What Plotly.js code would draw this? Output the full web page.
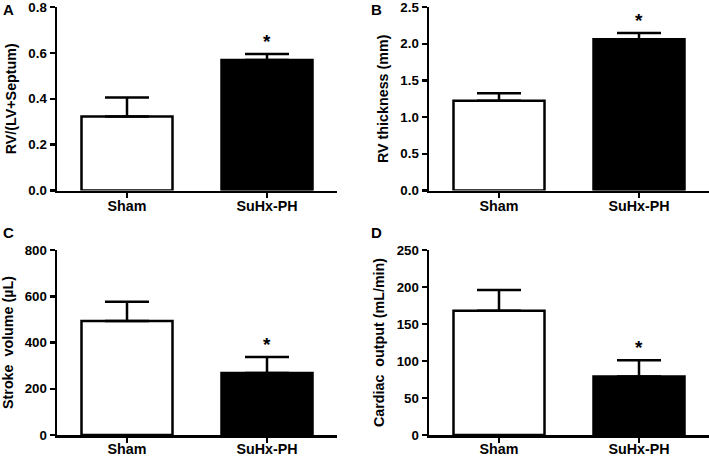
<!DOCTYPE html>
<html><head><meta charset="utf-8">
<script src="https://cdn.plot.ly/plotly-3.0.1.min.js"></script>
<style>html,body{margin:0;padding:0;background:#fff}</style>
</head><body><div id="chart" style="width:709px;height:456px"></div>
<script>
const groups = ['Sham', 'SuHx-PH'];
const rvRatio = [0.323, 0.569];
const rvRatioErr = [0.083, 0.026];
const rvThick = [1.225, 2.06];
const rvThickErr = [0.10, 0.087];
const strokeVol = [493, 268];
const strokeVolErr = [83, 69];
const cardOut = [168, 79];
const cardOutErr = [28, 22];
const panelLetters = ['A', 'B', 'C', 'D'];
const yTitles = ['RV/(LV+Septum)', 'RV thickness (mm)', 'Stroke  volume (\u00b5L)', 'Cardiac  output (mL/min)'];
const yMax = [0.8, 2.5, 800, 250];
const yDtick = [0.2, 0.5, 200, 50];
const yFormat = ['.1f', '.1f', '', ''];
const barColors = ['#ffffff', '#000000'];
const sigMark = '*';

const values = [rvRatio, rvThick, strokeVol, cardOut];
const errors = [rvRatioErr, rvThickErr, strokeVolErr, cardOutErr];

const W = 709, H = 456;
const FONT = 'Liberation Sans, Arial, sans-serif';
// pixel layout of panels: [left, right, top, bottom]
const boxes = [
  [57, 337, 7, 190.5],
  [429, 709, 7, 190.5],
  [57, 337, 250, 435],
  [429, 709, 250, 435]
];
const labelStandoff = [-4, -4, -6, -6];
const letterPos = [[8, 10], [377, 10], [8, 232], [377, 232]];

const data = [];
const layout = {
  width: W, height: H,
  margin: {l: 0, r: 0, t: 0, b: 0},
  paper_bgcolor: '#fff', plot_bgcolor: 'rgba(0,0,0,0)',
  showlegend: false,
  font: {family: FONT, color: '#000', size: 14, weight: 700},
  annotations: []
};

for (let i = 0; i < 4; i++) {
  const n = i === 0 ? '' : String(i + 1);
  const b = boxes[i];
  data.push({
    type: 'bar',
    x: groups,
    y: values[i],
    xaxis: 'x' + n,
    yaxis: 'y' + n,
    width: 0.65,
    marker: {color: barColors, line: {color: '#000', width: 2.5}},
    error_y: {type: 'data', symmetric: false, array: errors[i], arrayminus: [0, 0],
              color: '#000', thickness: 2.5, width: 22},
    hoverinfo: 'skip'
  });
  layout['xaxis' + n] = {
    domain: [b[0] / W, b[1] / W],
    anchor: 'y' + n,
    type: 'category',
    range: [-0.5, 1.5],
    showline: true, linecolor: '#000', linewidth: 2.5,
    ticks: 'outside', ticklen: 5, tickwidth: 2.5, tickcolor: '#000',
    ticklabelstandoff: labelStandoff[i],
    ticklabeloverflow: 'allow',
    tickfont: {family: FONT, size: 14.3, weight: 700, color: '#000'},
    showgrid: false, zeroline: false, fixedrange: true
  };
  layout['yaxis' + n] = {
    domain: [1 - b[3] / H, 1 - b[2] / H],
    anchor: 'x' + n,
    range: [0, yMax[i] * 1.0005],
    dtick: yDtick[i], tick0: 0,
    tickformat: yFormat[i],
    showline: true, linecolor: '#000', linewidth: 2.5,
    ticks: 'outside', ticklen: 5, tickwidth: 2.5, tickcolor: '#000',
    ticklabeloverflow: 'allow',
    tickfont: {family: FONT, size: 13.3, weight: 700, color: '#000'},
    showgrid: false, zeroline: false, fixedrange: true,
    title: {text: yTitles[i], standoff: 9, font: {family: FONT, size: 14.3, weight: 700, color: '#000'}}
  };
  layout.annotations.push({
    xref: 'x' + n, yref: 'y' + n,
    x: groups[1], y: values[i][1] + errors[i][1],
    text: sigMark, showarrow: false,
    yanchor: 'bottom', yshift: 0,
    font: {family: FONT, size: 19, weight: 700, color: '#000'}
  });
  layout.annotations.push({
    xref: 'paper', yref: 'paper',
    x: letterPos[i][0] / W, y: 1 - letterPos[i][1] / H,
    xanchor: 'center', yanchor: 'middle',
    text: panelLetters[i], showarrow: false,
    font: {family: FONT, size: 15, weight: 700, color: '#000'}
  });
}

Plotly.newPlot('chart', data, layout, {displayModeBar: false, staticPlot: true});
</script>
</body></html>
